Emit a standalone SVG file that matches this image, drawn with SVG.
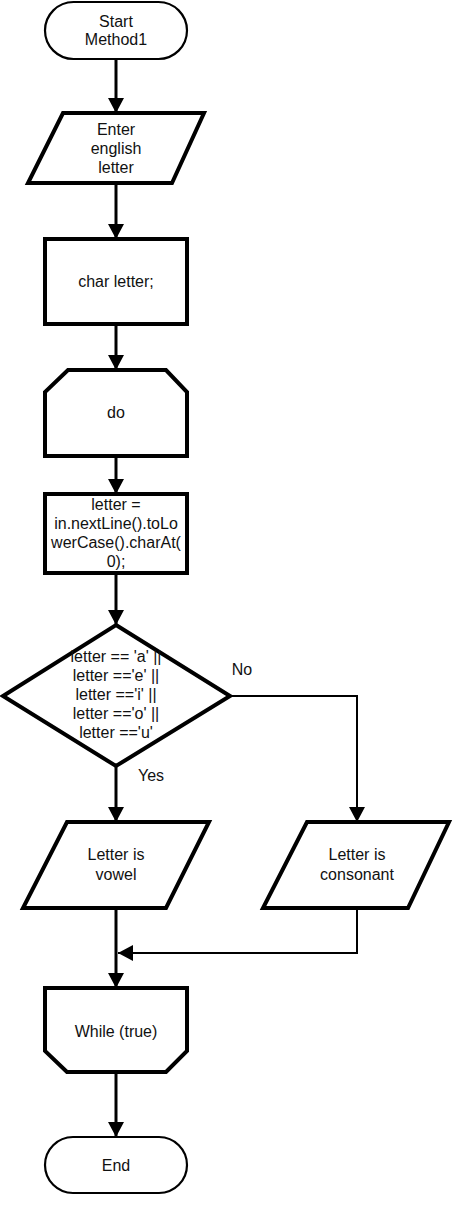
<svg xmlns="http://www.w3.org/2000/svg" width="460" height="1205" viewBox="0 0 460 1205">
<style>
.t{font-family:"Liberation Sans",Arial,sans-serif;font-size:16px;fill:#111;text-anchor:middle}
.term{fill:#fff;stroke:#000;stroke-width:2.2}
.box{fill:#fff;stroke:#000;stroke-width:4;stroke-linejoin:miter}
.c{fill:none;stroke:#000;stroke-width:3}
.c2{fill:none;stroke:#000;stroke-width:2}
</style>
<defs>
<marker id="ah" viewBox="0 0 15 16" refX="15" refY="8" markerWidth="15" markerHeight="16" markerUnits="userSpaceOnUse" orient="auto">
<path d="M0,0 L15,8 L0,16 Z" fill="#000"/>
</marker>
</defs>
<rect width="460" height="1205" fill="#fff"/>
<g id="connectors">
<path class="c" d="M116,59 V113" marker-end="url(#ah)"/>
<path class="c" d="M116,183 V239" marker-end="url(#ah)"/>
<path class="c" d="M116,324 V370" marker-end="url(#ah)"/>
<path class="c" d="M116,456 V494" marker-end="url(#ah)"/>
<path class="c" d="M116,573 V625" marker-end="url(#ah)"/>
<path class="c" d="M116,766 V822" marker-end="url(#ah)"/>
<path class="c2" d="M230,696 H357 V822" marker-end="url(#ah)"/>
<path class="c" d="M116,908 V988" marker-end="url(#ah)"/>
<path class="c2" d="M357,908 V953 H118" marker-end="url(#ah)"/>
<path class="c" d="M116,1072 V1137" marker-end="url(#ah)"/>
<text class="t" x="242" y="675">No</text>
<text class="t" x="151" y="781">Yes</text>
</g>
<g id="start">
<rect class="term" x="45" y="2" width="142" height="57" rx="28.5"/>
<text class="t" x="116" y="27">Start</text>
<text class="t" x="116" y="45">Method1</text>
</g>
<g id="input">
<polygon class="box" points="63,113 204,113 172,183 28,183"/>
<text class="t" x="116" y="135">Enter</text>
<text class="t" x="116" y="154">english</text>
<text class="t" x="116" y="173">letter</text>
</g>
<g id="declare">
<rect class="box" x="45" y="239" width="142" height="85"/>
<text class="t" x="116" y="287">char letter;</text>
</g>
<g id="do">
<polygon class="box" points="68,370 166,370 187,392 187,456 45,456 45,392"/>
<text class="t" x="116" y="418">do</text>
</g>
<g id="read">
<rect class="box" x="45" y="494" width="142" height="79"/>
<text class="t" x="116" y="510">letter =</text>
<text class="t" x="116" y="529">in.nextLine().toLo</text>
<text class="t" x="116" y="548">werCase().charAt(</text>
<text class="t" x="116" y="567">0);</text>
</g>
<g id="decision">
<polygon class="box" points="116,625 230,696 116,766 3,696"/>
<text class="t" x="116" y="662">letter == 'a' ||</text>
<text class="t" x="116" y="681">letter =='e' ||</text>
<text class="t" x="116" y="700">letter =='i' ||</text>
<text class="t" x="116" y="719">letter =='o' ||</text>
<text class="t" x="116" y="738">letter =='u'</text>
</g>
<g id="vowel">
<polygon class="box" points="67,822 209,822 166,908 23,908"/>
<text class="t" x="116" y="860">Letter is</text>
<text class="t" x="116" y="880">vowel</text>
</g>
<g id="consonant">
<polygon class="box" points="307,822 449,822 408,908 263,908"/>
<text class="t" x="357" y="860">Letter is</text>
<text class="t" x="357" y="880">consonant</text>
</g>
<g id="while">
<polygon class="box" points="45,988 187,988 187,1051 166,1072 67,1072 45,1051"/>
<text class="t" x="116" y="1037">While (true)</text>
</g>
<g id="end">
<rect class="term" x="45" y="1137" width="142" height="56" rx="28"/>
<text class="t" x="116" y="1171">End</text>
</g>
</svg>
